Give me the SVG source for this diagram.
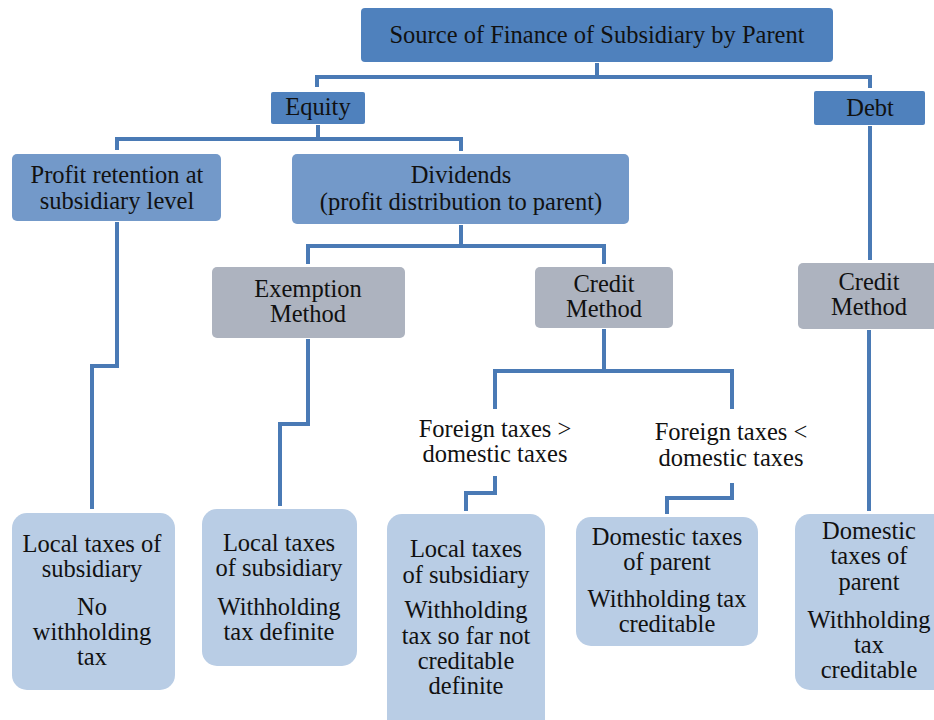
<svg xmlns="http://www.w3.org/2000/svg" width="934" height="720" viewBox="0 0 934 720">
<style>
text{font-family:"Liberation Serif",serif;font-size:24.5px;fill:#111;text-anchor:middle}
.dark{fill:#4F81BD}
.mid{fill:#7399C9}
.gray{fill:#ADB3BF}
.light{fill:#B9CDE5}
#connectors path{fill:none;stroke:#4A7AB5;stroke-width:4;stroke-linejoin:miter}
</style>
<rect width="934" height="720" fill="#fff"/>
<g id="connectors">
<path d="M597,63 V77 M317,87 V77 H870 V88"/>
<path d="M318,125 V139 M117,150 V139 H461 V151"/>
<path d="M461,225 V246 M308,264 V246 H604 V264"/>
<path d="M870,126 V260"/>
<path d="M117,222 V366 H92 V509"/>
<path d="M308,339 V424 H280 V506"/>
<path d="M604,329 V371 M495,409 V371 H732 V409"/>
<path d="M495,476 V493 H466 V511"/>
<path d="M732,483 V498 H667 V514"/>
<path d="M869,330 V511"/>
</g>
<g id="root"><rect class="dark" x="361" y="8" width="472" height="54" rx="4"/><text x="597" y="43">Source of Finance of Subsidiary by Parent</text></g>
<g id="equity"><rect class="dark" x="271" y="92" width="94" height="32" rx="2"/><text x="318" y="115">Equity</text></g>
<g id="debt"><rect class="dark" x="814" y="91" width="111" height="34" rx="2"/><text x="870" y="116">Debt</text></g>
<g id="profit-retention"><rect class="mid" x="12" y="154" width="209" height="67" rx="5"/><text x="117" y="183">Profit retention at</text><text x="117" y="209">subsidiary level</text></g>
<g id="dividends"><rect class="mid" x="292" y="154" width="337" height="70" rx="5"/><text x="461" y="183">Dividends</text><text x="461" y="210">(profit distribution to parent)</text></g>
<g id="exemption"><rect class="gray" x="212" y="267" width="193" height="71" rx="5"/><text x="308" y="297">Exemption</text><text x="308" y="322">Method</text></g>
<g id="credit-div"><rect class="gray" x="535" y="267" width="138" height="61" rx="5"/><text x="604" y="292">Credit</text><text x="604" y="317">Method</text></g>
<g id="credit-debt"><rect class="gray" x="798" y="263" width="150" height="66" rx="5"/><text x="869" y="290">Credit</text><text x="869" y="315">Method</text></g>
<g id="foreign-gt"><text x="495" y="437">Foreign taxes &gt;</text><text x="495" y="462">domestic taxes</text></g>
<g id="foreign-lt"><text x="731" y="440">Foreign taxes &lt;</text><text x="731" y="466">domestic taxes</text></g>
<g id="leaf-retention"><rect class="light" x="12" y="513" width="163" height="177" rx="15"/><text x="92" y="552">Local taxes of</text><text x="92" y="577">subsidiary</text><text x="92" y="615">No</text><text x="92" y="640">withholding</text><text x="92" y="665">tax</text></g>
<g id="leaf-exemption"><rect class="light" x="202" y="509" width="155" height="157" rx="15"/><text x="279" y="551">Local taxes</text><text x="279" y="576">of subsidiary</text><text x="279" y="615">Withholding</text><text x="279" y="640">tax definite</text></g>
<g id="leaf-gt"><rect class="light" x="387" y="514" width="158" height="226" rx="15"/><text x="466" y="557">Local taxes</text><text x="466" y="583">of subsidiary</text><text x="466" y="618">Withholding</text><text x="466" y="644">tax so far not</text><text x="466" y="669">creditable</text><text x="466" y="694">definite</text></g>
<g id="leaf-lt"><rect class="light" x="576" y="517" width="182" height="129" rx="15"/><text x="667" y="545">Domestic taxes</text><text x="667" y="570">of parent</text><text x="667" y="607">Withholding tax</text><text x="667" y="632">creditable</text></g>
<g id="leaf-debt"><rect class="light" x="795" y="514" width="160" height="176" rx="15"/><text x="869" y="539">Domestic</text><text x="869" y="564">taxes of</text><text x="869" y="590">parent</text><text x="869" y="628">Withholding</text><text x="869" y="653">tax</text><text x="869" y="678">creditable</text></g>
</svg>
